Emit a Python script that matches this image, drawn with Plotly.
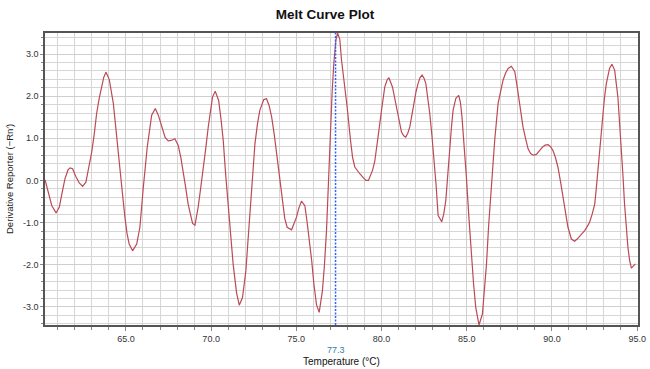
import plotly.graph_objects as go

# Temperature (°C) and derivative reporter (-Rn') values
temperature = [
    60.25, 60.45, 60.65, 60.9, 61.09, 61.25, 61.42, 61.6, 61.72, 61.87, 62.05, 62.26, 62.46, 62.65,
    62.82, 62.99, 63.14, 63.28, 63.43, 63.57, 63.7, 63.83, 64.02, 64.26, 64.43, 64.61, 64.78, 64.94,
    65.06, 65.19, 65.39, 65.63, 65.82, 66.02, 66.25, 66.51, 66.72, 66.9, 67.15, 67.3, 67.48, 67.65,
    67.87, 68.07, 68.22, 68.36, 68.5, 68.65, 68.8, 68.91, 69.05, 69.24, 69.38, 69.53, 69.68, 69.83,
    69.95, 70.08, 70.24, 70.44, 70.58, 70.71, 70.85, 71.0, 71.15, 71.29, 71.49, 71.65, 71.84, 72.04,
    72.15, 72.27, 72.42, 72.57, 72.72, 72.86, 73.09, 73.25, 73.4, 73.55, 73.7, 73.84, 74.0, 74.19,
    74.32, 74.46, 74.72, 75.01, 75.15, 75.3, 75.5, 75.62, 75.75, 75.9, 76.03, 76.18, 76.34, 76.53,
    76.65, 76.77, 76.9, 77.0, 77.1, 77.2, 77.32, 77.42, 77.55, 77.65, 77.8, 77.98, 78.18, 78.3,
    78.43, 78.58, 78.72, 78.9, 79.08, 79.23, 79.35, 79.47, 79.6, 79.7, 79.85, 80.0, 80.19, 80.32,
    80.43, 80.64, 80.78, 80.91, 81.04, 81.17, 81.3, 81.42, 81.54, 81.66, 81.78, 81.89, 82.02, 82.14,
    82.26, 82.38, 82.5, 82.6, 82.72, 82.83, 82.96, 83.08, 83.2, 83.32, 83.53, 83.65, 83.77, 83.88,
    84.0, 84.1, 84.2, 84.36, 84.53, 84.63, 84.72, 84.85, 84.98, 85.13, 85.28, 85.4, 85.53, 85.72,
    85.92, 86.04, 86.16, 86.28, 86.39, 86.52, 86.64, 86.84, 87.0, 87.13, 87.28, 87.43, 87.62, 87.82,
    87.95, 88.07, 88.18, 88.3, 88.45, 88.6, 88.75, 88.89, 89.09, 89.25, 89.44, 89.6, 89.77, 89.92,
    90.06, 90.2, 90.35, 90.5, 90.65, 90.8, 90.94, 91.14, 91.33, 91.48, 91.63, 91.78, 91.92, 92.06,
    92.21, 92.36, 92.51, 92.6, 92.7, 92.83, 92.96, 93.08, 93.19, 93.38, 93.52, 93.68, 93.87, 93.97,
    94.07, 94.17, 94.26, 94.36, 94.46, 94.56, 94.66, 94.9,
]
derivative = [
    0.02, -0.3, -0.6, -0.77, -0.63, -0.3, 0.04, 0.25, 0.3, 0.28, 0.1, -0.06, -0.14, -0.04,
    0.3, 0.67, 1.1, 1.59, 1.95, 2.26, 2.45, 2.57, 2.4, 1.83, 1.1, 0.4, -0.25, -0.87,
    -1.25, -1.51, -1.67, -1.51, -1.11, -0.16, 0.79, 1.55, 1.71, 1.55, 1.19, 1.02, 0.94, 0.95,
    0.99, 0.83, 0.55, 0.24, -0.15, -0.56, -0.85, -1.02, -1.06, -0.63, -0.2, 0.24, 0.75, 1.27,
    1.65, 1.98, 2.12, 1.9, 1.45, 0.95, 0.15, -0.63, -1.35, -1.98, -2.66, -2.96, -2.78, -2.14,
    -1.5, -0.79, 0.05, 0.87, 1.35, 1.67, 1.92, 1.94, 1.78, 1.51, 1.1, 0.63, 0.05, -0.56,
    -0.9, -1.11, -1.17, -0.87, -0.65, -0.49, -0.6, -0.95, -1.35, -1.9, -2.46, -2.94, -3.13, -2.62,
    -2.0, -1.19, 0.1, 1.35, 2.1, 2.78, 3.33, 3.5, 3.35, 2.86, 2.4, 1.75, 0.95, 0.55,
    0.32, 0.23, 0.16, 0.08, 0.0, 0.0, 0.1, 0.24, 0.45, 0.71, 1.2, 1.67, 2.22, 2.38,
    2.44, 2.22, 1.95, 1.67, 1.38, 1.15, 1.06, 1.03, 1.12, 1.27, 1.55, 1.83, 2.1, 2.3,
    2.44, 2.5, 2.42, 2.3, 1.98, 1.59, 1.05, 0.56, -0.1, -0.83, -0.98, -0.8, -0.48, 0.1,
    0.79, 1.25, 1.67, 1.95, 2.02, 1.85, 1.51, 0.85, 0.08, -0.9, -1.83, -2.45, -3.02, -3.43,
    -3.17, -2.6, -1.98, -1.1, -0.4, 0.3, 0.95, 1.83, 2.15, 2.38, 2.55, 2.66, 2.71, 2.58,
    2.25, 1.9, 1.55, 1.27, 1.0, 0.75, 0.64, 0.6, 0.62, 0.7, 0.79, 0.84, 0.85, 0.8,
    0.71, 0.55, 0.32, -0.02, -0.4, -0.78, -1.11, -1.39, -1.44, -1.39, -1.33, -1.27, -1.19, -1.1,
    -0.99, -0.8, -0.56, -0.2, 0.24, 0.9, 1.51, 1.95, 2.3, 2.66, 2.76, 2.62, 1.98, 1.4,
    0.79, 0.1, -0.56, -1.1, -1.59, -1.9, -2.08, -1.98,
]

x_tick_vals = [65, 70, 75, 80, 85, 90, 95]
x_tick_text = ["65.0", "70.0", "75.0", "80.0", "85.0", "90.0", "95.0"]
y_tick_vals = [-3, -2, -1, 0, 1, 2, 3]
y_tick_text = ["-3.0", "-2.0", "-1.0", "0.0", "1.0", "2.0", "3.0"]
tm_value = 77.3
tm_label = "77.3"

FONT = "Liberation Sans, Arial, sans-serif"

fig = go.Figure()
fig.add_trace(go.Scatter(
    x=temperature, y=derivative, mode="lines",
    line=dict(color="#bb4a56", width=1.2),
    showlegend=False, hoverinfo="skip",
))

fig.add_vline(x=tm_value, line=dict(color="#2e62ff", width=1.5, dash="2px,1.5px"))

fig.add_annotation(
    x=tm_value, y=0, xref="x", yref="paper", yshift=-25,
    text=tm_label, showarrow=False,
    font=dict(family=FONT, size=9, color="#2c7fb0"),
    yanchor="middle",
)
fig.add_annotation(
    x=0.5, y=0, xref="paper", yref="paper", yshift=-36,
    text="Temperature (°C)", showarrow=False,
    font=dict(family=FONT, size=10, color="#111111"),
    yanchor="middle",
)
fig.add_annotation(
    x=0, y=0.5, xref="paper", yref="paper", xshift=-36,
    text="Derivative Reporter (\u2212Rn\u2032)", showarrow=False, textangle=-90,
    font=dict(family=FONT, size=9.5, color="#222222"),
    xanchor="center", yanchor="middle",
)

axis_font = dict(family=FONT, size=9, color="#333333")

fig.update_layout(
    width=650, height=369,
    margin=dict(l=45, r=12, t=33, b=44),
    paper_bgcolor="white", plot_bgcolor="white",
    title=dict(
        text="<b>Melt Curve Plot</b>", x=0.5, xanchor="center",
        y=1 - 14 / 369, yref="container", yanchor="middle",
        font=dict(family=FONT, size=13.5, color="#111111"),
    ),
    xaxis=dict(
        range=[60.25, 95.05], automargin=False,
        tickvals=x_tick_vals, ticktext=x_tick_text,
        ticks="outside", ticklen=4, tickcolor="#888888",
        showgrid=True, gridcolor="#cfcfcf", gridwidth=1,
        minor=dict(dtick=1, tick0=0, showgrid=True, gridcolor="#d6d6d6",
                   ticks="outside", ticklen=3, tickcolor="#888888"),
        showline=True, linecolor="#555555", linewidth=1.5, mirror=True,
        zeroline=False, tickfont=axis_font,
    ),
    yaxis=dict(
        range=[-3.43, 3.5], automargin=False,
        tickvals=y_tick_vals, ticktext=y_tick_text,
        ticks="outside", ticklen=3, tickcolor="#888888",
        showgrid=True, gridcolor="#cfcfcf", gridwidth=1,
        minor=dict(dtick=0.2, tick0=0, showgrid=True, gridcolor="#d6d6d6",
                   ticks="outside", ticklen=2, tickcolor="#888888"),
        showline=True, linecolor="#555555", linewidth=1.5, mirror=True,
        zeroline=False, tickfont=axis_font,
    ),
)

fig.write_html("out.html", config={"displayModeBar": False},
               post_script="document.body.style.margin='0';")
